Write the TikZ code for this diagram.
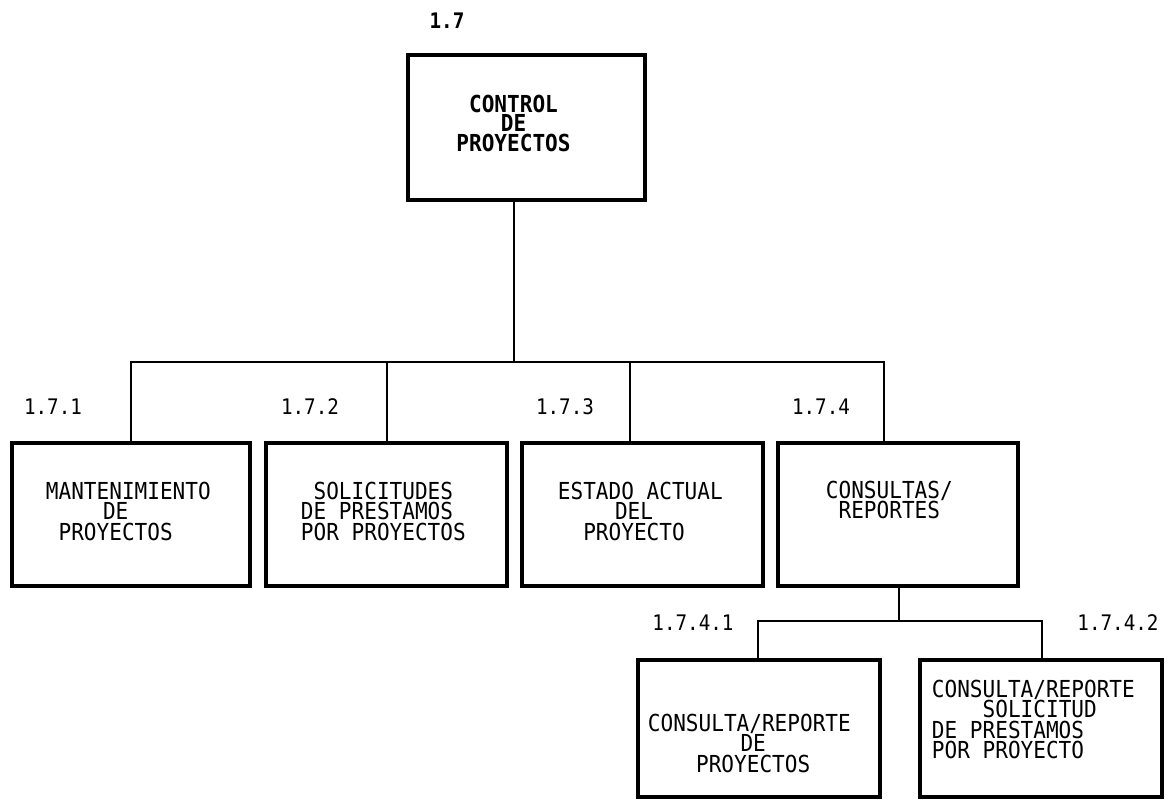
\documentclass[tikz,border=0pt]{standalone}
\usepackage{fontspec}
\newfontfamily\dmfont[FakeStretch=0.9]{DejaVu Sans Mono}
\newcommand\gap[1]{\hspace*{#1\fontcharwd\font`M}}
\begin{document}
\begin{tikzpicture}[x=1pt,y=1pt,font=\dmfont,
  bx/.style={draw,line width=4.5pt,minimum width=240pt,minimum height=143pt,inner sep=0pt},
  tx/.style={align=left,anchor=north west,inner sep=0pt,font=\dmfont\fontsize{23.4}{20.5}\selectfont},
  num/.style={inner sep=0pt,font=\dmfont\fontsize{21.4}{24}\selectfont},
  ln/.style={line width=1.6pt}]
\useasboundingbox (0,0) rectangle (1174,800);
% boxes
\node[bx,minimum width=237pt,minimum height=145pt] (T) at (526.5,672.5) {};
\node[bx,minimum width=238pt] (b1) at (131,285.5) {}; \node[bx,minimum width=241pt] (b2) at (386.5,285.5) {};
\node[bx,minimum width=241pt] (b3) at (642.5,285.5) {}; \node[bx] (b4) at (898,285.5) {};
\node[bx,minimum width=242pt,minimum height=137pt] (b5) at (759,71.5) {}; \node[bx,minimum width=242pt,minimum height=137pt] (b6) at (1041,71.5) {};
% texts
\node[tx,align=center,anchor=north,font=\dmfont\bfseries\fontsize{23.4}{19.5}\selectfont] (tT) at ([xshift=-13pt,yshift=-42pt]T.north) {CONTROL\\DE\\PROYECTOS};
\node[tx] (t1) at ([xshift=36pt,yshift=-41pt]b1.north west) {MANTENIMIENTO\\\gap{4.5}DE\\\gap{1}PROYECTOS};
\node[tx] (t2) at ([xshift=37pt,yshift=-41pt]b2.north west) {\gap{1}SOLICITUDES\\DE PRESTAMOS\\POR PROYECTOS};
\node[tx] (t3) at ([xshift=38pt,yshift=-41pt]b3.north west) {ESTADO ACTUAL\\\gap{4.5}DEL\\\gap{2}PROYECTO};
\node[tx] (t4) at ([xshift=50pt,yshift=-40pt]b4.north west) {CONSULTAS/\\\gap{1}REPORTES};
\node[tx] (t5) at ([xshift=12pt,yshift=-56pt]b5.north west) {CONSULTA/REPORTE\\\gap{7.3}DE\\\gap{3.8}PROYECTOS};
\node[tx] (t6) at ([xshift=14pt,yshift=-22pt]b6.north west) {CONSULTA/REPORTE\\\gap{4}SOLICITUD\\DE PRESTAMOS\\POR PROYECTO};
% numbers
\node[num,font=\dmfont\bfseries\fontsize{21.4}{24}\selectfont] (n0) at (447,779) {1.7};
\node[num] (n1) at (53,393) {1.7.1}; \node[num] (n2) at (310,393) {1.7.2}; \node[num] (n3) at (565,393) {1.7.3}; \node[num] (n4) at (821,393) {1.7.4};
\node[num] (n41) at (693,177) {1.7.4.1}; \node[num] (n42) at (1118,177) {1.7.4.2};
% connectors
\coordinate (j0) at (514,438); \coordinate (j1) at (131,438); \coordinate (j2) at (387,438); \coordinate (j3) at (630,438); \coordinate (j4) at (884,438);
\coordinate (k0) at (899,179); \coordinate (k5) at (758,179); \coordinate (k6) at (1042,179);
\draw[ln] (T.south -| j0) -- (j0);
\draw[ln] (b1.north -| j1) -- (j1) -- (j4) -- (b4.north -| j4);
\draw[ln] (j2) -- (b2.north -| j2); \draw[ln] (j3) -- (b3.north -| j3);
\draw[ln] (b4.south -| k0) -- (k0);
\draw[ln] (b5.north -| k5) -- (k5) -- (k6) -- (b6.north -| k6);
\end{tikzpicture}
\end{document}
